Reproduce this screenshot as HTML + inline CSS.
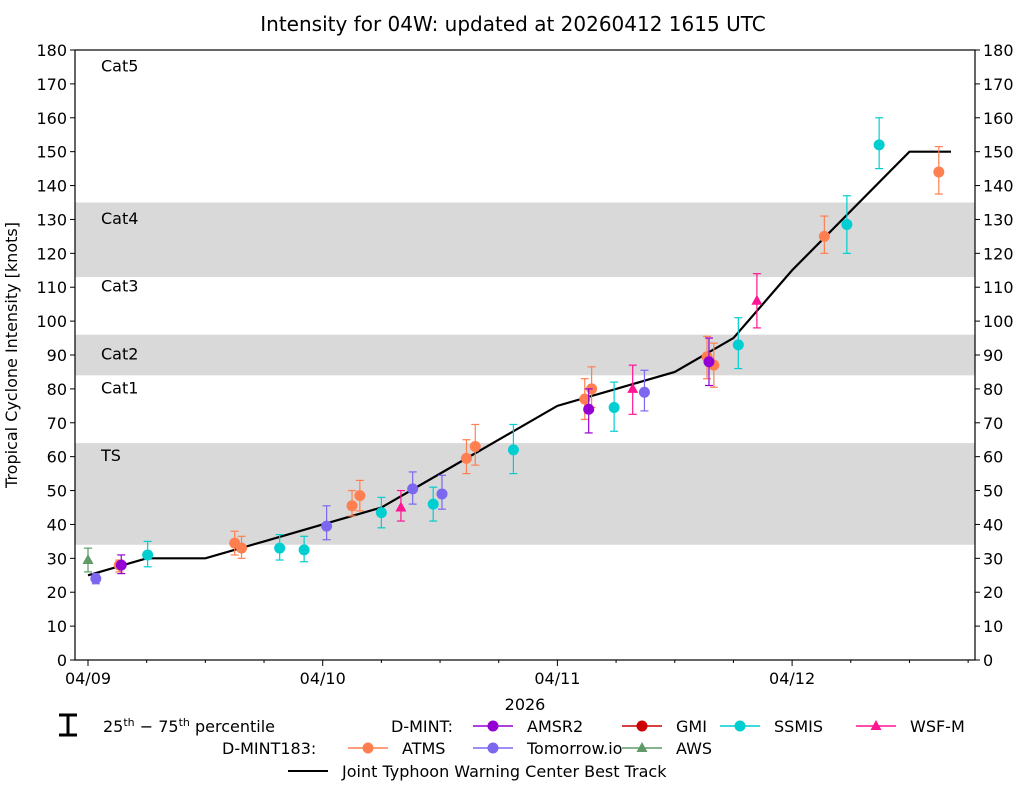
<!DOCTYPE html>
<html><head><meta charset="utf-8"><style>
body{margin:0;background:#fff;font-family:"Liberation Sans","DejaVu Sans",sans-serif}
svg text{font-family:"DejaVu Sans","Liberation Sans",sans-serif}
</style></head><body>
<svg id="c" width="1025" height="785" xmlns="http://www.w3.org/2000/svg"></svg>
<script>
// hours since 04/09 00Z
const trackHours=[0,6,12,18,24,30,36,42,48,54,60,66,72,84,88.25];
const trackValues=[25,30,30,35,40,45,55,65,75,80,85,95,115,150,150];
const amsr2=[[3.4,28,25.5,31],[51.2,74,67,80],[63.5,88,81,95]];
const atms=[[3.2,28,26,29.5],[15,34.5,31,38],[15.7,33,30,36.5],[27,45.5,42.5,50],[27.8,48.5,44,53],[38.7,59.5,55,65],[39.6,63,57.5,69.5],[50.8,77,71,83],[51.5,80,74.5,86.5],[63.3,89.5,83,95.5],[64.0,87,80.5,93.5],[75.3,125,120,131],[87.0,144,137.5,151.5]];
const ssmis=[[6.1,31,27.5,35],[19.6,33,29.5,37],[22.1,32.5,29,36.5],[30,43.5,39,48],[35.3,46,41,51],[43.5,62,55,69.5],[53.8,74.5,67.5,82],[66.5,93,86,101],[77.6,128.5,120,137],[80.9,152,145,160]];
const wsfm=[[32,45,41,50],[55.7,80,72.5,87],[68.4,106,98,114]];
const tomorrow=[[0.8,24,22.5,25.5],[24.4,39.5,35.5,45.5],[33.2,50.5,46,55.5],[36.2,49,44.5,54.5],[56.9,79,73.5,85.5]];
const aws=[[0,29.5,26,33]];
const yTicks=[0,10,20,30,40,50,60,70,80,90,100,110,120,130,140,150,160,170,180];
const xTickLabels=["04/09","04/10","04/11","04/12"];
const bands=[[34,64,"TS"],[84,96,"Cat2"],[113,135,"Cat4"]];
const catLabels=[[59,"TS"],[79,"Cat1"],[89,"Cat2"],[109,"Cat3"],[129,"Cat4"],[174,"Cat5"]];

const L=75,R=975,T=50,B=660;
const x=h=>88+h*234.7/24, y=v=>B-(v/180)*(B-T);
const svg=document.getElementById('c');const NS="http://www.w3.org/2000/svg";
function el(t,a,p){const e=document.createElementNS(NS,t);for(const k in a)e.setAttribute(k,a[k]);(p||svg).appendChild(e);return e;}
function tx(s,a){const e=el('text',a);e.textContent=s;return e;}

bands.forEach(b=>{const r=el('rect',{x:L,y:y(b[1]),width:R-L,height:y(b[0])-y(b[1]),fill:'#d9d9d9'});
});
catLabels.forEach(c=>{const t=tx(c[1],{x:101,y:y(c[0])+1,'font-size':16});
});

const frame=el('rect',{x:L,y:T,width:R-L,height:B-T,fill:'none',stroke:'#000','stroke-width':1.2});


yTicks.forEach(v=>{el('line',{x1:L-5,x2:L,y1:y(v),y2:y(v),stroke:'#000'});el('line',{x1:R,x2:R+5,y1:y(v),y2:y(v),stroke:'#000'});
const a=tx(v,{x:L-8,y:y(v)+6,'font-size':16,'text-anchor':'end'});
const b=tx(v,{x:R+8,y:y(v)+6,'font-size':16});});
for(let h=0;h<=96;h+=6){const maj=h%24==0;el('line',{x1:x(h),x2:x(h),y1:B,y2:B+(maj?6:3),stroke:'#000'});
if(maj){const t=tx(xTickLabels[h/24],{x:x(h),y:B+24,'font-size':16,'text-anchor':'middle'});}}

const tl=tx('2026',{x:525,y:710,'font-size':16,'text-anchor':'middle'});
const yt=tx('Tropical Cyclone Intensity [knots]',{x:0,y:0,'font-size':16,'text-anchor':'middle',transform:'translate(17,355) rotate(-90)'});

const ti=tx('Intensity for 04W: updated at 20260412 1615 UTC',{x:513,y:31,'font-size':20,'text-anchor':'middle'});


const p=trackHours.map((h,i)=>x(h)+','+y(trackValues[i])).join(' ');
const line=el('polyline',{points:p,fill:'none',stroke:'#000','stroke-width':2.2});


function marker(cx,cy,col,shape,parent){if(shape=='tri')return el('polygon',{points:`${cx},${cy-6} ${cx-5.5},${cy+4} ${cx+5.5},${cy+4}`,fill:col},parent);
return el('circle',{cx,cy,r:5.5,fill:col},parent);}
function series(data,col,name,shape){data.forEach(d=>{const g=el('g',{});
const X=x(d[0]);el('line',{x1:X,x2:X,y1:y(d[2]),y2:y(d[3]),stroke:col,'stroke-width':1.2},g);
el('line',{x1:X-4,x2:X+4,y1:y(d[2]),y2:y(d[2]),stroke:col,'stroke-width':1.2},g);
el('line',{x1:X-4,x2:X+4,y1:y(d[3]),y2:y(d[3]),stroke:col,'stroke-width':1.2},g);
marker(X,y(d[1]),col,shape,g);
});}
series(aws,'#5f9a68','aws','tri');series(tomorrow,'#7b68ee','tomorrow-io');series(atms,'#ff7f50','atms');
series(ssmis,'#00ced1','ssmis');series(amsr2,'#9400d3','amsr2');series(wsfm,'#ff1493','wsf-m','tri');

// legend
const lg=el('g',{});
el('line',{x1:68,x2:68,y1:715,y2:735,stroke:'#000','stroke-width':3},lg);
el('line',{x1:59,x2:77,y1:715,y2:715,stroke:'#000','stroke-width':3},lg);
el('line',{x1:59,x2:77,y1:735,y2:735,stroke:'#000','stroke-width':3},lg);
const pt=el('text',{x:103,y:732,'font-size':16},lg);pt.innerHTML='25<tspan dy="-6" font-size="11">th</tspan><tspan dy="6"> − 75</tspan><tspan dy="-6" font-size="11">th</tspan><tspan dy="6"> percentile</tspan>';
lg.appendChild(tx('D-MINT:',{x:391,y:732,'font-size':16}));
lg.appendChild(tx('D-MINT183:',{x:222,y:754,'font-size':16}));
function le(x0,yy,col,label,shape){const g=el('g',{},lg);el('line',{x1:x0,x2:x0+40,y1:yy,y2:yy,stroke:col,'stroke-width':1.5},g);
marker(x0+20,yy,col,shape,g);g.appendChild(tx(label,{x:x0+54,y:yy+6,'font-size':16}));
}
le(473,726,'#9400d3','AMSR2');le(622,726,'#cc0000','GMI');le(720,726,'#00ced1','SSMIS');le(856,726,'#ff1493','WSF-M','tri');
le(348,748,'#ff7f50','ATMS');le(473,748,'#7b68ee','Tomorrow.io');le(622,748,'#5f9a68','AWS','tri');
const bt=el('g',{},lg);el('line',{x1:288,x2:328,y1:771,y2:771,stroke:'#000','stroke-width':2},bt);
bt.appendChild(tx('Joint Typhoon Warning Center Best Track',{x:342,y:777,'font-size':16}));

</script>
</body></html>
